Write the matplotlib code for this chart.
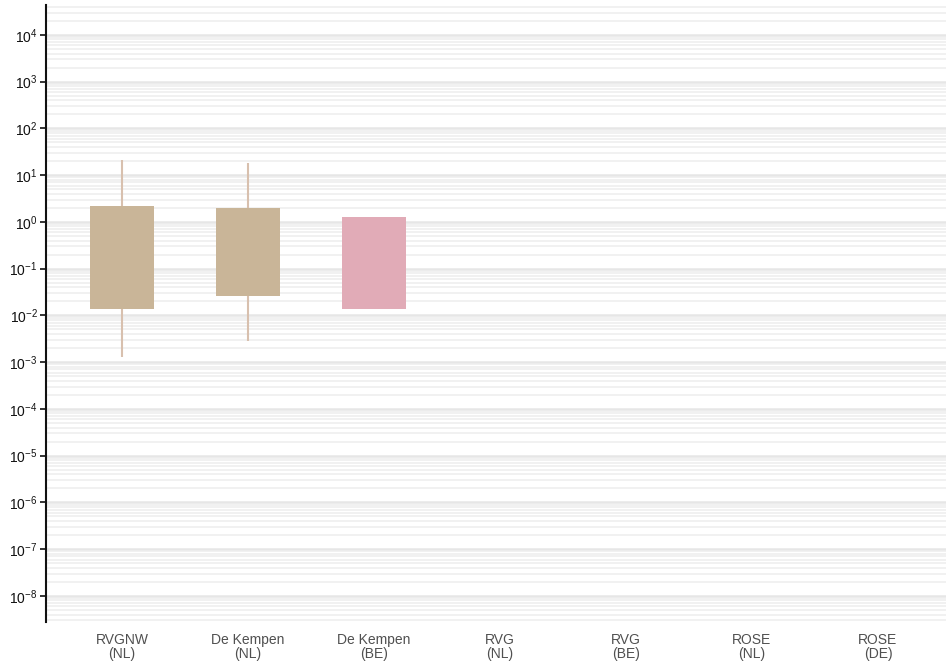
import matplotlib
matplotlib.use("Agg")
from matplotlib import pyplot as plt
from matplotlib.ticker import LogLocator, NullFormatter

plt.rcParams['font.family'] = ['Liberation Sans', 'DejaVu Sans']

sites = ["RVGNW\n(NL)", "De Kempen\n(NL)", "De Kempen\n(BE)", "RVG\n(NL)",
         "RVG\n(BE)", "ROSE\n(NL)", "ROSE\n(DE)"]
box_low = [0.0134, 0.026, 0.0134]
box_high = [2.2, 2.02, 1.3]
whisk_low = [0.0013, 0.0028, None]
whisk_high = [21, 17.8, None]
box_colors = ["#c9b598", "#c9b598", "#e1abb7"]

fig = plt.figure(figsize=(9.46, 6.68), dpi=100)
ax = fig.add_axes([0.0486, 0.069, 0.9514, 0.9235])

xs = list(range(len(sites)))
ax.set_yscale('log')
ax.set_ylim(10 ** -8.556, 10 ** 4.64)
ax.set_xlim(-0.603, 6.54)

# grid lines for each decade and the minor steps in between
ax.yaxis.set_major_locator(LogLocator(base=10, numticks=20))
ax.yaxis.set_minor_locator(LogLocator(base=10, subs=range(2, 10), numticks=20))
ax.yaxis.set_minor_formatter(NullFormatter())
ax.grid(True, which='major', axis='y', color='#e6e6e6', linewidth=1.8)
ax.grid(True, which='minor', axis='y', color='#ededed', linewidth=1.1)
ax.set_axisbelow(True)

for i in range(len(box_low)):
    if whisk_low[i] is not None:
        ax.vlines(xs[i], whisk_low[i], whisk_high[i], color='#d8c0ae', linewidth=1.5, zorder=2)
    ax.bar(xs[i], box_high[i] - box_low[i], bottom=box_low[i], width=0.51,
           color=box_colors[i], zorder=3)

ax.set_xticks(xs)
ax.set_xticklabels(sites, fontsize=10, color='#505050', linespacing=1.0)
ax.tick_params(axis='x', length=0, pad=8)
ax.tick_params(axis='y', which='major', length=4, width=1.2, labelsize=10, color='#111111', labelcolor='#111111', pad=2)
ax.tick_params(axis='y', which='minor', length=0)

for s in ['top', 'right', 'bottom']:
    ax.spines[s].set_visible(False)
ax.spines['left'].set_linewidth(1.5)
ax.spines['left'].set_color('#111111')

fig.savefig("out.png", dpi=100)
